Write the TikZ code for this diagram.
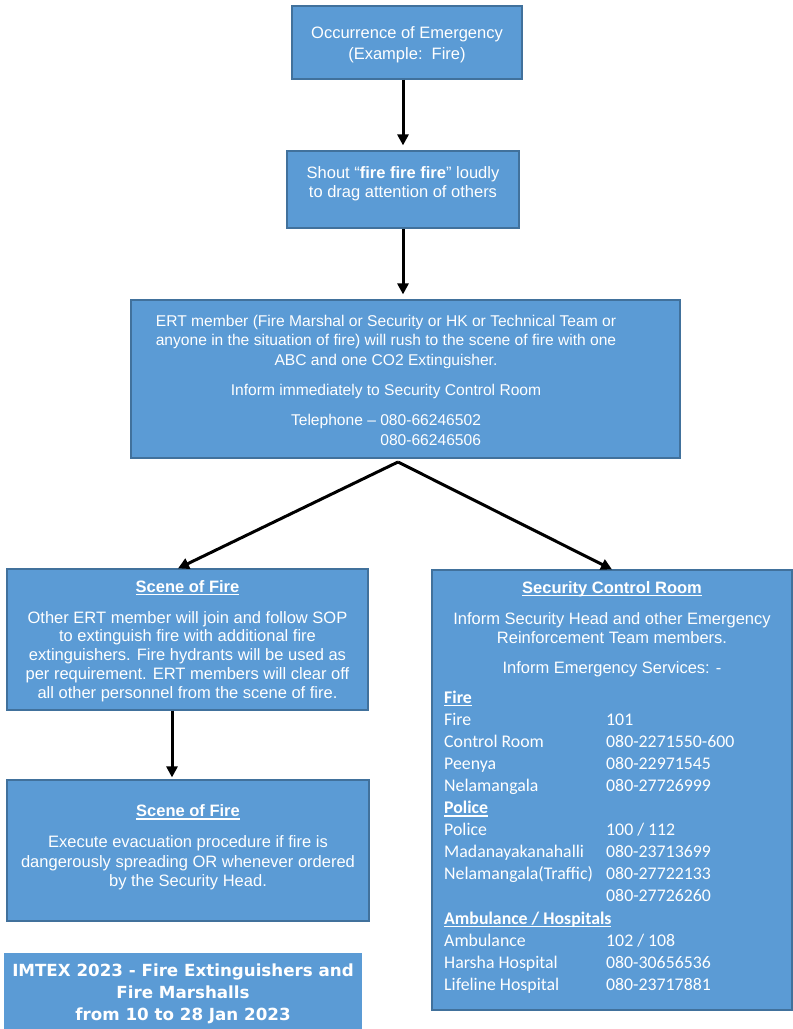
\documentclass[tikz,border=0pt]{standalone}
\usepackage{fontspec}
\setmainfont{Liberation Sans}
\newfontfamily\calibrifont{Carlito}
\newfontfamily\verdanafont{DejaVu Sans}
\usepackage{xcolor}
\usepackage{tikz}
\usetikzlibrary{positioning, arrows.meta, calc}

\definecolor{boxblue}{RGB}{91,155,213}
\definecolor{boxedge}{RGB}{65,113,156}

\newcommand{\ulbold}[1]{\textbf{\setbox0=\hbox{#1}\rlap{\rule[-0.17em]{\wd0}{0.075em}}\box0}}

\begin{document}
\begin{tikzpicture}[
    x=1pt, y=-1pt,
    bluebox/.style={rectangle, draw=boxedge, line width=1.2pt, fill=boxblue},
    boxtext/.style={text=white, align=center, inner sep=0pt, font=\fontsize{16.5}{19.5}\selectfont},
    flowarrow/.style={line width=3pt, -{Triangle[length=11pt, width=11pt]}},
]
\useasboundingbox (0,0) rectangle (793,1029);

% boxes
\node[bluebox, minimum width=230pt, minimum height=73pt](occur) at (407,42.5){};
\node[bluebox, minimum width=232pt, minimum height=77pt](shout) at (403,189.5){};
\node[bluebox, minimum width=549pt, minimum height=158pt](ert) at (405.5,379){};
\node[bluebox, minimum width=361pt, minimum height=141pt](scene) at (187.5,639.5){};
\node[bluebox, minimum width=362pt, minimum height=141pt](evac) at (188,850.5){};
\node[bluebox, minimum width=360pt, minimum height=440pt](control) at (612,790){};
\node[rectangle, fill=boxblue, minimum width=358pt, minimum height=82pt](banner) at (183,994){};

% texts
\node[boxtext](occur_text) at ([yshift=-2pt]occur.center){Occurrence of Emergency\\[1.5pt](Example:\ \ Fire)};
\node[boxtext](shout_text) at ([yshift=6pt]shout.center){Shout “\textbf{fire fire fire}” loudly\\to drag attention of others};
\node[boxtext, font=\fontsize{15.6}{19.6}\selectfont](ert_text) at (386,383){ERT member (Fire Marshal or Security or HK or Technical Team or\\
    anyone in the situation of fire) will rush to the scene of fire with one\\
    ABC and one CO2 Extinguisher.\\[10.5pt]
    Inform immediately to Security Control Room\\[10.5pt]
    \begin{tabular}[t]{@{}r@{\ }l@{}}Telephone –&080-66246502\\&080-66246506\end{tabular}};
\node[boxtext, font=\fontsize{16.5}{18.8}\selectfont](scene_text) at ([yshift=-1.5pt]scene.center){\ulbold{Scene of Fire}\\[12pt]
    Other ERT member will join and follow SOP\\
    to extinguish fire with additional fire\\
    extinguishers. Fire hydrants will be used as\\
    per requirement. ERT members will clear off\\
    all other personnel from the scene of fire.};
\node[boxtext](evac_text) at ([yshift=3pt]evac.center){\ulbold{Scene of Fire}\\[11.5pt]
    Execute evacuation procedure if fire is\\
    dangerously spreading OR whenever ordered\\
    by the Security Head.};
\node[boxtext](control_text) at (612,629){\ulbold{Security Control Room}\\[11.5pt]
    Inform Security Head and other Emergency\\
    Reinforcement Team members.\\[10.5pt]
    Inform Emergency Services: -};
\node[text=white, inner sep=0pt, anchor=base west, font=\calibrifont\fontsize{17.8}{22.1}\selectfont](contacts) at (444,703){%
    \begin{tabular}[t]{@{}p{162pt}@{}l@{}}
    \ulbold{Fire} & \\
    Fire & 101\\
    Control Room & 080-2271550-600\\
    Peenya & 080-22971545\\
    Nelamangala & 080-27726999\\
    \ulbold{Police} & \\
    Police & 100 / 112\\
    Madanayakanahalli & 080-23713699\\
    Nelamangala(Traffic) & 080-27722133\\
     & 080-27726260\\
    \ulbold{Ambulance / Hospitals} & \\
    Ambulance & 102 / 108\\
    Harsha Hospital & 080-30656536\\
    Lifeline Hospital & 080-23717881
    \end{tabular}};
\node[text=white, align=center, inner sep=0pt, font=\verdanafont\bfseries\fontsize{16.7}{22}\selectfont](banner_text) at (banner.center){IMTEX 2023 - Fire Extinguishers and\\Fire Marshalls\\from 10 to 28 Jan 2023};

% arrows
\coordinate(fork) at (398,462);
\draw[flowarrow, shorten >=5pt] (occur.south -| shout.north) -- (shout.north);
\draw[flowarrow, shorten >=5pt] (shout.south) -- (shout.south |- ert.north);
\draw[flowarrow] (fork) -- ([xshift=-9.5pt]scene.north);
\draw[flowarrow] (fork) -- (control.north);
\draw[flowarrow, shorten >=2pt] ([xshift=-15.5pt]scene.south) -- ([xshift=-15.5pt]scene.south |- evac.north);
\end{tikzpicture}
\end{document}
